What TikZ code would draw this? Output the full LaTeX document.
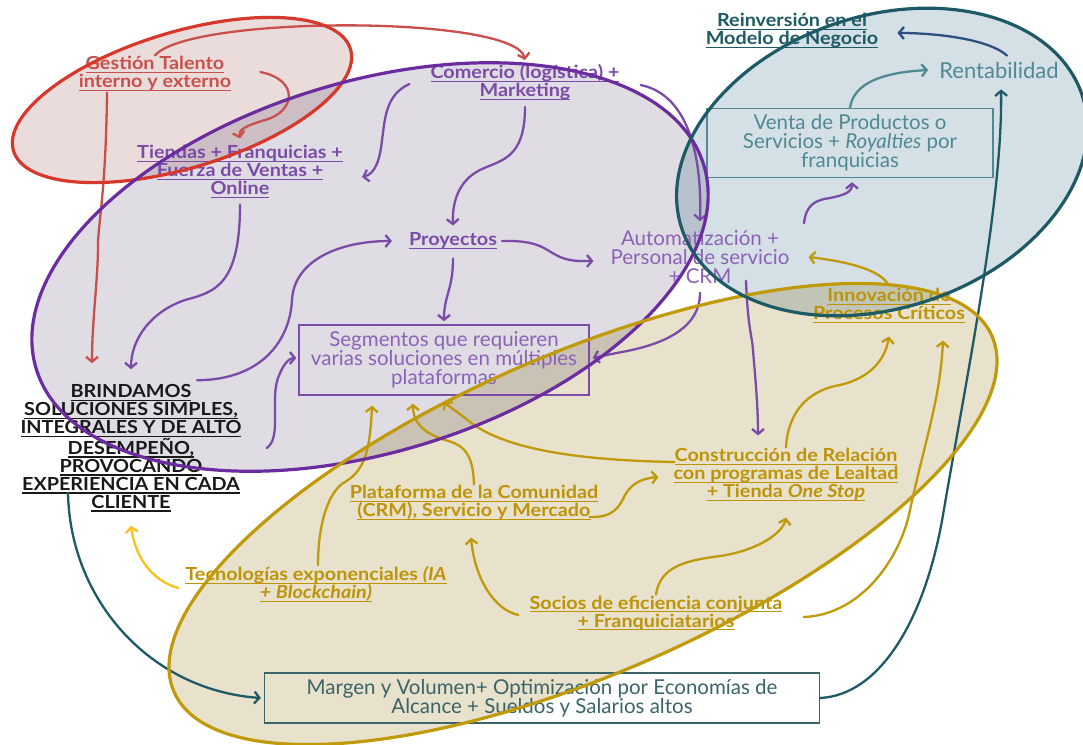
\documentclass[tikz,border=0pt]{standalone}
\usepackage{fontspec}
\setmainfont{Lato}
\newfontfamily\labfont{Lato}[FakeStretch=1.1]
\usepackage{tikz}
\usetikzlibrary{arrows.meta,positioning}
\pgfdeclarelayer{bglayer}
\pgfdeclarelayer{fglayer}
\pgfsetlayers{bglayer,main,fglayer}
\definecolor{colorrd}{HTML}{D5392C}
\definecolor{colorrdtxt}{HTML}{C9504A}
\definecolor{colorrdfill}{HTML}{EBDCDC}
\definecolor{colorpu}{HTML}{6A2C9E}
\definecolor{colorputxt}{HTML}{7A4BA7}
\definecolor{colorpulight}{HTML}{8C62B8}
\definecolor{colorpufill}{HTML}{DFDCE4}
\definecolor{colortl}{HTML}{1E5A66}
\definecolor{colortltxt}{HTML}{4F8993}
\definecolor{colortlfill}{HTML}{D4E0E5}
\definecolor{colorbl}{HTML}{2D4F7F}
\definecolor{colorgd}{HTML}{C09A08}
\definecolor{colorgdtxt}{HTML}{BD9408}
\definecolor{colorgdfill}{HTML}{E8E1CB}
\definecolor{coloryl}{HTML}{F6C21B}
\definecolor{colormg}{HTML}{3A6468}
\tikzset{lab/.style={align=center, inner sep=1pt, font=\labfont\bfseries\fontsize{18}{18}\selectfont}}
\tikzset{txt/.style={align=center, inner sep=1pt, font=\fontsize{20.5}{19}\selectfont}}
\tikzset{box/.style={txt, draw, line width=1.3pt, inner sep=0pt}}
\tikzset{rim/.style={line width=3.2pt}}
\tikzset{
  edge/.style={line width=2.3pt, line cap=round, -{Straight Barb[length=5pt,width=12pt]}},
  edgerd/.style={edge, draw=colorrdtxt},
  edgepu/.style={edge, draw=colorputxt},
  edgetl/.style={edge, draw=colortl},
  edgetllt/.style={edge, draw=colortltxt},
  edgebl/.style={edge, draw=colorbl},
  edgegd/.style={edge, draw=colorgd},
  edgeyl/.style={edge, draw=coloryl}
}
\newcommand\ulbox[1]{\leavevmode\setbox0\hbox{#1}\rlap{\rule[-3.4pt]{\wd0}{1.2pt}}\box0}

\begin{document}
\begin{tikzpicture}[x=1pt,y=-1pt]
\useasboundingbox (0,0) rectangle (1083,744);

% the four groups, filled underneath
\begin{pgfonlayer}{bglayer}
\fill[white] (0,0) rectangle (1083,744);
\begin{scope}[blend mode=multiply]
\fill[colorrdfill, rotate around={16.8:(182,100)}] (182,100) ellipse [x radius=176, y radius=68];
\fill[colorpufill, rotate around={17:(370,267)}] (370,267) ellipse [x radius=349, y radius=185];
\fill[colortlfill, rotate around={18.5:(882,162)}] (882,162) ellipse [x radius=211, y radius=146];
\fill[colorgdfill, rotate around={23.5:(583,514)}] (583,514) ellipse [x radius=446, y radius=160];
\end{scope}
\end{pgfonlayer}

% labels
\node[lab, text=colorrdtxt] (gestion) at (155,74)
{\ulbox{Gestión Talento}\\\ulbox{interno y externo}};
\node[lab, text=colorputxt] (comercio) at (525,82)
{\ulbox{Comercio (logística) +}\\\ulbox{Marketing}};
\node[lab, text=colorputxt] (tiendas) at (240,172)
{\ulbox{Tiendas + Franquicias +}\\\ulbox{Fuerza de Ventas +}\\\ulbox{Online}};
\node[lab, text=colorputxt] (proyectos) at (453,241) {\ulbox{Proyectos}};
\node[txt, text=colorpulight] (automat) at (700,257)
{Automatización +\\Personal de servicio\\+ CRM};
\node[box, text=colorpulight, draw=colorputxt, minimum width=290pt, minimum height=70pt] (segmentos) at (444,360)
{Segmentos que requieren\\varias soluciones en múltiples\\plataformas};
\node[lab, text=black!90] (brindamos) at (131,448)
{\ulbox{BRINDAMOS}\\\ulbox{SOLUCIONES SIMPLES,}\\\ulbox{INTEGRALES Y DE ALTO}\\\ulbox{DESEMPEÑO,}\\\ulbox{PROVOCANDO}\\\ulbox{EXPERIENCIA EN CADA}\\\ulbox{CLIENTE}};
\node[lab, text=colortl] (reinversion) at (792,31)
{\ulbox{Reinversión en el}\\\ulbox{Modelo de Negocio}};
\node[txt, text=colortltxt, font=\fontsize{22}{19}\selectfont] (rentab) at (999,70) {Rentabilidad};
\node[box, text=colortltxt, draw=colortltxt, minimum width=286pt, minimum height=69pt] (venta) at (850,143)
{Venta de Productos o\\Servicios + \textit{Royalties} por\\franquicias};
\node[lab, text=colorgdtxt] (innov) at (889,306)
{\ulbox{Innovación de}\\\ulbox{Procesos Críticos}};
\node[lab, text=colorgdtxt] (constr) at (786,475)
{\ulbox{Construcción de Relación}\\\ulbox{con programas de Lealtad}\\\ulbox{+ Tienda \textit{One Stop}}};
\node[lab, text=colorgdtxt] (plataf) at (474,503)
{\ulbox{Plataforma de la Comunidad}\\\ulbox{(CRM), Servicio y Mercado}};
\node[lab, text=colorgdtxt] (tecno) at (316,584)
{\ulbox{Tecnologías exponenciales \textit{(IA}}\\\ulbox{\textit{+ Blockchain)}}};
\node[lab, text=colorgdtxt] (socios) at (656,613)
{\ulbox{Socios de eficiencia conjunta}\\\ulbox{+ Franquiciatarios}};
\node[box, text=colormg, draw=colormg, minimum width=555pt, minimum height=50pt] (margen) at (542,698)
{Margen y Volumen+ Optimización por Economías de\\Alcance + Sueldos y Salarios altos};

% red arrows
\draw[edgerd] (gestion.north) .. controls (190,15) and (515,15) .. ([yshift=3pt]comercio.north);
\draw[edgerd] ([xshift=28pt,yshift=2pt]gestion.east) .. controls (300,80) and (295,112) .. (265,120)
  .. controls (245,126) and (238,130) .. ([yshift=6pt]tiendas.north);
\draw[edgerd] ([xshift=-48pt]gestion.south) .. controls (106,190) and (98,225) .. (98,245)
  .. controls (98,280) and (92,320) .. ([xshift=-39pt,yshift=20pt]brindamos.north);

% purple arrows
\draw[edgepu] ([xshift=-20pt,yshift=-2pt]comercio.west) .. controls (385,95) and (385,120) .. (382,140)
  .. controls (380,160) and (375,174) .. ([xshift=18pt,yshift=-5pt]tiendas.east);
\draw[edgepu] ([yshift=-6pt]comercio.south) .. controls (525,160) and (500,160) .. (480,170)
  .. controls (460,180) and (452,200) .. ([yshift=6pt]proyectos.north);
\draw[edgepu] ([xshift=20pt,yshift=-3pt]comercio.east) .. controls (690,95) and (702,160) .. ([yshift=8pt]automat.north);
\draw[edgepu] ([yshift=-5pt]tiendas.south) .. controls (240,285) and (215,292) .. (185,300)
  .. controls (150,312) and (131,340) .. ([yshift=14pt]brindamos.north);
\draw[edgepu] ([xshift=66pt,yshift=3pt]brindamos.north) .. controls (262,380) and (290,340) .. (292,300)
  .. controls (294,260) and (340,241) .. ([xshift=-16pt]proyectos.west);
\draw[edgepu] ([xshift=24pt]brindamos.east) .. controls (282,438) and (270,400) .. (278,378)
  .. controls (284,362) and (290,358) .. ([xshift=-2pt,yshift=2pt]segmentos.west);
\draw[edgepu] ([xshift=4pt]proyectos.east) .. controls (540,240) and (545,250) .. (558,256)
  .. controls (570,262) and (582,261) .. ([xshift=-16pt,yshift=-4pt]automat.west);
\draw[edgepu] ([yshift=-8pt]proyectos.south) .. controls (453,290) and (444,295) .. ([yshift=3pt]segmentos.north);
\draw[edgepu] ([yshift=-8pt]automat.south) .. controls (700,330) and (660,345) .. (622,352)
  .. controls (606,355) and (598,357) .. ([xshift=3pt,yshift=2pt]segmentos.east);
\draw[edgepu] ([xshift=46pt,yshift=4pt]automat.south) .. controls (748,330) and (752,335) .. (753,350)
  .. controls (755,375) and (758,405) .. ([xshift=-28pt,yshift=12pt]constr.north);
\draw[edgepu] ([xshift=-46pt,yshift=-45pt]venta.south) .. controls (806,205) and (815,200) .. (830,198)
  .. controls (845,195) and (852,192) .. ([xshift=2pt,yshift=-4pt]venta.south);

% teal arrows
\draw[edgetllt] (venta.north) .. controls (853,88) and (872,73) .. ([xshift=-10pt]rentab.west);
\draw[edgebl] ([xshift=8pt,yshift=5pt]rentab.north) .. controls (990,40) and (940,33) .. ([xshift=18pt,yshift=-2pt]reinversion.east);
\draw[edgetl] (margen.east) .. controls (880,695) and (925,620) .. (943,515)
  .. controls (965,385) and (1003,200) .. ([xshift=2pt,yshift=-10pt]rentab.south);
\draw[edgetl] ([xshift=-63pt,yshift=20pt]brindamos.south) .. controls (70,600) and (150,690) .. ([xshift=-3pt]margen.west);

% gold arrows
\draw[edgegd] ([xshift=2pt,yshift=13pt]constr.west) .. controls (560,460) and (500,445) .. (470,422)
  .. controls (455,410) and (447,405) .. ([yshift=-6pt]segmentos.south);
\draw[edgegd] (plataf.north) .. controls (473,455) and (465,445) .. (445,440)
  .. controls (420,432) and (413,420) .. ([xshift=-31pt,yshift=-8pt]segmentos.south);
\draw[edgegd] ([xshift=2pt]tecno.north) .. controls (318,520) and (330,490) .. (345,482)
  .. controls (365,470) and (370,450) .. ([xshift=-72pt,yshift=-10pt]segmentos.south);
\draw[edgegd] ([xshift=-10pt,yshift=-14pt]plataf.east) .. controls (615,518) and (620,505) .. (625,495)
  .. controls (632,482) and (645,478) .. ([xshift=-14pt,yshift=-2pt]constr.west);
\draw[edgegd] (constr.north) .. controls (788,410) and (810,390) .. (840,385)
  .. controls (870,378) and (885,360) .. ([yshift=-12pt]innov.south);
\draw[edgegd] ([yshift=2pt]innov.north) .. controls (880,270) and (850,262) .. ([xshift=18pt]automat.east);
\draw[edgegd] ([xshift=-10pt,yshift=-2pt]socios.west) .. controls (495,610) and (475,580) .. ([xshift=-3pt,yshift=-16pt]plataf.south);
\draw[edgegd] (socios.north) .. controls (660,565) and (690,560) .. (720,556)
  .. controls (760,550) and (783,532) .. ([yshift=-15pt]constr.south);
\draw[edgegd] ([xshift=20pt,yshift=-4pt]socios.east) .. controls (860,615) and (900,560) .. (910,510)
  .. controls (925,440) and (940,400) .. ([xshift=54pt,yshift=-16pt]innov.south);
\draw[edgeyl] ([xshift=-6pt,yshift=-4pt]tecno.west) .. controls (150,580) and (135,555) .. ([yshift=-13pt]brindamos.south);

% outlines on top
\begin{pgfonlayer}{fglayer}
\draw[rim, colorrd, rotate around={16.8:(182,100)}] (182,100) ellipse [x radius=176, y radius=68];
\draw[rim, colorpu, rotate around={17:(370,267)}] (370,267) ellipse [x radius=349, y radius=185];
\draw[rim, colorgd, rotate around={23.5:(583,514)}] (583,514) ellipse [x radius=446, y radius=160];
\draw[rim, colortl, rotate around={18.5:(882,162)}] (882,162) ellipse [x radius=211, y radius=146];
\end{pgfonlayer}
\end{tikzpicture}
\end{document}
